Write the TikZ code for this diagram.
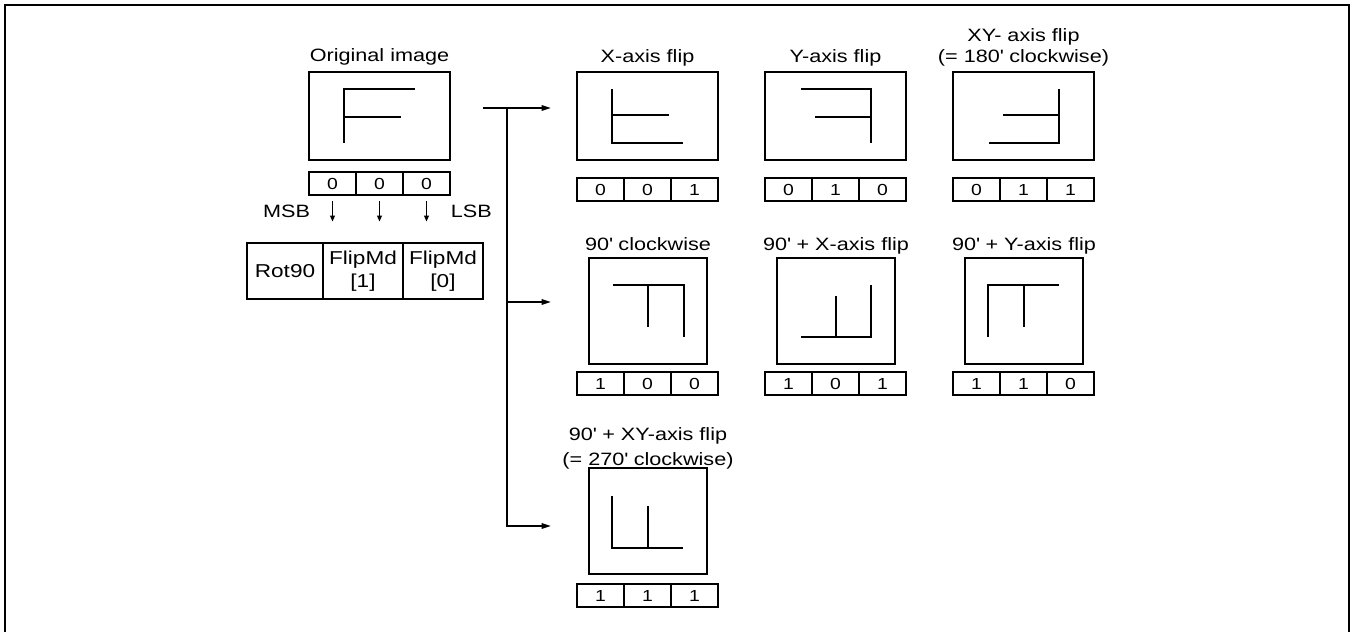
\documentclass[tikz,border=0pt]{standalone}
\usepackage{fontspec}
\setmainfont[FakeStretch=1.21]{Liberation Sans}
\usetikzlibrary{arrows.meta}
\newcommand{\ap}{\textquotesingle}
\newcommand{\bitrow}[6]{%
  \node[bitcell, anchor=north west] (#1-2) at (#2,#3) {#4};
  \node[bitcell, anchor=north west] (#1-1) at (#1-2.north east) {#5};
  \node[bitcell, anchor=north west] (#1-0) at (#1-1.north east) {#6};}
\begin{document}
\begin{tikzpicture}[x=0.75pt,y=-0.75pt, line width=1.4pt,
  imgbox/.style={draw, inner sep=0pt, outer sep=0pt},
  widebox/.style={imgbox, minimum width=141*0.75pt, minimum height=88*0.75pt},
  rotbox/.style={imgbox, minimum width=118*0.75pt, minimum height=106*0.75pt},
  bitcell/.style={draw, inner sep=0pt, outer sep=0pt, minimum width=47*0.75pt, minimum height=23*0.75pt, font=\fontsize{12}{14}\selectfont},
  title/.style={inner sep=0pt, anchor=base, font=\fontsize{13.4}{15}\selectfont},
  regcell/.style={draw, inner sep=0pt, outer sep=0pt, minimum height=56*0.75pt, align=center, anchor=north west, font=\fontsize{14}{17.25}\selectfont},
  arr/.style={-{Triangle[length=7pt,width=4pt]}},
  msbarr/.style={line width=1.1pt, -{Triangle[length=4.5pt,width=3.5pt]}},
]
\useasboundingbox (0,0) rectangle (1354,632);
% frame
\draw (5,640) -- (5,5) -- (1349,5) -- (1349,640);

% ---------- original image ----------
\node[title] (t-orig) at (379.5,61) {Original image};
\node[widebox] (orig) at (379.5,116) {};
\begin{scope}[shift={(orig.north west)}]
  \draw (106,17) -- (35,17) -- (35,71);
  \draw (35,45) -- (92,45);
\end{scope}
\bitrow{ob}{309}{172}{0}{0}{0}
\node[title, anchor=base east] (msb) at (311,217) {MSB};
\node[title, anchor=base west] (lsb) at (450,217) {LSB};
\draw[msbarr] ([yshift=-4.5pt]ob-2.south) -- ([yshift=-20pt]ob-2.south);
\draw[msbarr] ([yshift=-4.5pt]ob-1.south) -- ([yshift=-20pt]ob-1.south);
\draw[msbarr] ([yshift=-4.5pt]ob-0.south) -- ([yshift=-20pt]ob-0.south);

% register
\node[regcell, minimum width=76*0.75pt] (rot) at (247,243) {Rot90};
\node[regcell, minimum width=80*0.75pt] (fm1) at (rot.north east) {FlipMd\\{[1]}};
\node[regcell, minimum width=80*0.75pt] (fm0) at (fm1.north east) {FlipMd\\{[0]}};

% ---------- connectors ----------
\coordinate (src) at (483,108);
\coordinate (br) at (507,108);
\coordinate (e1) at (551,108);
\coordinate (e2) at (551,302);
\coordinate (e3) at (551,526);
\draw[arr] (src) -- (e1);
\draw[arr] (br) |- (e3);
\draw[arr] (br |- e2) -- (e2);

% ---------- X-axis flip ----------
\node[title] (t-xf) at (647.5,62) {X-axis flip};
\node[widebox] (xf) at (647.5,116) {};
\begin{scope}[shift={(xf.north west)}]
  \draw (35,17) -- (35,71) -- (106,71);
  \draw (35,43) -- (92,43);
\end{scope}
\bitrow{xb}{577}{178}{0}{0}{1}

% ---------- Y-axis flip ----------
\node[title] (t-yf) at (835.5,62) {Y-axis flip};
\node[widebox] (yf) at (835.5,116) {};
\begin{scope}[shift={(yf.north west)}]
  \draw (36,17) -- (106,17) -- (106,71);
  \draw (50,45) -- (106,45);
\end{scope}
\bitrow{yb}{765}{178}{0}{1}{0}

% ---------- XY-axis flip ----------
\node[title] (t-xyf1) at (1023.5,41) {XY- axis flip};
\node[title] (t-xyf2) at (1023.5,62) {(= 180\ap{} clockwise)};
\node[widebox] (xyf) at (1023.5,116) {};
\begin{scope}[shift={(xyf.north west)}]
  \draw (106,17) -- (106,71) -- (36,71);
  \draw (50,43) -- (106,43);
\end{scope}
\bitrow{xyb}{953}{178}{0}{1}{1}

% ---------- 90 clockwise ----------
\node[title] (t-r) at (648,250) {90\ap{} clockwise};
\node[rotbox] (r) at (648,311) {};
\begin{scope}[shift={(r.north west)}]
  \draw (24,27) -- (95,27) -- (95,79);
  \draw (59,27) -- (59,69);
\end{scope}
\bitrow{rb}{577}{372}{1}{0}{0}

% ---------- 90 + X ----------
\node[title] (t-rx) at (836,250) {90\ap{} + X-axis flip};
\node[rotbox] (rx) at (836,311) {};
\begin{scope}[shift={(rx.north west)}]
  \draw (24,79) -- (94,79) -- (94,27);
  \draw (59,79) -- (59,38);
\end{scope}
\bitrow{rxb}{765}{372}{1}{0}{1}

% ---------- 90 + Y ----------
\node[title] (t-ry) at (1024,250) {90\ap{} + Y-axis flip};
\node[rotbox] (ry) at (1024,311) {};
\begin{scope}[shift={(ry.north west)}]
  \draw (94,27) -- (23,27) -- (23,79);
  \draw (59,27) -- (59,69);
\end{scope}
\bitrow{ryb}{953}{372}{1}{1}{0}

% ---------- 90 + XY ----------
\node[title] (t-rxy1) at (648,440) {90\ap{} + XY-axis flip};
\node[title] (t-rxy2) at (648,465) {(= 270\ap{} clockwise)};
\node[rotbox] (rxy) at (648,521) {};
\begin{scope}[shift={(rxy.north west)}]
  \draw (23,28) -- (23,80) -- (94,80);
  \draw (59,80) -- (59,38);
\end{scope}
\bitrow{rxyb}{577}{584}{1}{1}{1}
\end{tikzpicture}
\end{document}
